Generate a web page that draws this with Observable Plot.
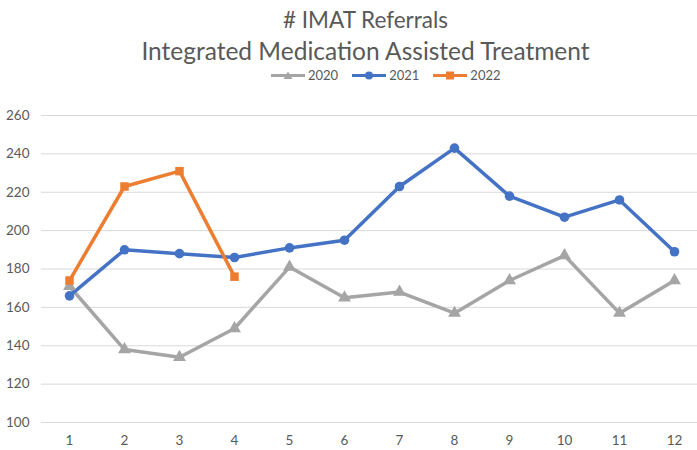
<!DOCTYPE html>
<html><head><meta charset="utf-8">
<script src="https://cdn.jsdelivr.net/npm/d3@7"></script>
<script src="https://cdn.jsdelivr.net/npm/@observablehq/plot@0.6"></script>
<style>
body{margin:0;background:#fff;font-family:Lato,"Open Sans",sans-serif;color:#595959;}
#head{height:85px;position:relative;}
.t{position:absolute;left:17px;width:697px;text-align:center;line-height:1;white-space:nowrap;}
#legend{position:absolute;top:67px;left:271px;display:flex;gap:14px;font-size:13px;}
.li{display:flex;align-items:center;gap:3px;}
</style></head>
<body>
<div id="head">
<div class="t" style="top:9px;font-size:22.5px"># IMAT Referrals</div>
<div class="t" style="top:39px;font-size:24.5px">Integrated Medication Assisted Treatment</div>
<div id="legend"></div>
</div>
<div id="chart"></div>
<script>
const months = [1,2,3,4,5,6,7,8,9,10,11,12];
const series = ["2020","2021","2022"];
const v2020 = [171,138,134,149,181,165,168,157,174,187,157,174];
const v2021 = [166,190,188,186,191,195,223,243,218,207,216,189];
const v2022 = [174,223,231,176];
const yTicks = [100,120,140,160,180,200,220,240,260];
const colors = ["#A5A5A5","#4472C4","#ED7D31"];
const symbols = ["triangle","circle","square"];

const data = [];
[v2020,v2021,v2022].forEach((vals,i)=>vals.forEach((v,j)=>data.push({series:series[i],month:months[j],value:v})));

const lg = document.getElementById("legend");
series.forEach((s,i)=>{
  const shape = symbols[i]==="triangle" ? `<path d="M17,2.5 L21.5,10 L12.5,10 Z" fill="${colors[i]}"/>` :
    symbols[i]==="circle" ? `<circle cx="17" cy="6.5" r="4" fill="${colors[i]}"/>` :
    `<rect x="13" y="2.5" width="8" height="8" fill="${colors[i]}"/>`;
  lg.insertAdjacentHTML("beforeend",`<div class="li"><svg width="34" height="13"><line x1="0" x2="34" y1="6.5" y2="6.5" stroke="${colors[i]}" stroke-width="3"/>${shape}</svg><span>${s}</span></div>`);
});

const chart = Plot.plot({
  width: 697, height: 365,
  marginLeft: 41, marginRight: 0, marginTop: 30, marginBottom: 28,
  style: {fontFamily: "Lato, 'Open Sans', sans-serif", fontSize: "13.5px", color: "#595959"},
  x: {type: "point", domain: months, range: [68, 675], padding: 0, axis: null},
  y: {domain: [100, 260], ticks: yTicks, axis: null},
  color: {domain: series, range: colors},
  symbol: {domain: series, range: symbols},
  marks: [
    Plot.ruleY(yTicks, {stroke: "#D9D9D9", strokeWidth: 1}),
    Plot.text(yTicks, {x: () => 1, y: d => d, text: d => String(d), dx: -40, textAnchor: "end", fill: "#595959"}),
    Plot.text(months, {x: d => d, y: () => 100, dy: 18, text: d => String(d), fill: "#595959"}),
    Plot.line(data, {x: "month", y: "value", z: "series", stroke: "series", strokeWidth: 3.5}),
    Plot.dot(data, {x: "month", y: "value", fill: "series", symbol: "series", r: 4.8, stroke: "none"})
  ]
});
document.getElementById("chart").appendChild(chart);
</script>
</body></html>
